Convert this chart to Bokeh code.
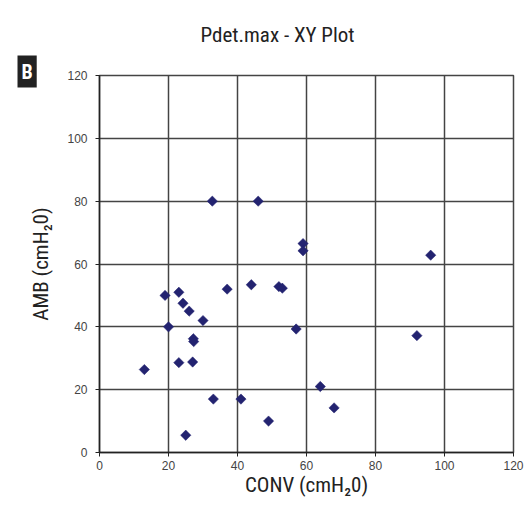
from bokeh.plotting import figure
from bokeh.models import Range1d, FixedTicker, Title
from bokeh.embed import file_html
from bokeh.resources import INLINE

# Data
conv = [32.7, 46.0, 59.0, 59.0, 19.0, 23.0, 24.2, 26.0, 30.0, 37.0, 44.0, 52.0, 53.0,
        20.0, 27.2, 27.3, 57.0, 13.0, 23.0, 27.0, 64.0, 33.0, 41.0, 68.0, 49.0, 25.0,
        96.0, 92.0]
amb = [80.0, 80.0, 66.5, 64.2, 50.0, 51.0, 47.5, 45.0, 42.0, 52.0, 53.4, 52.8, 52.3,
       40.0, 36.2, 35.3, 39.3, 26.4, 28.6, 28.8, 21.0, 17.0, 17.0, 14.2, 10.0, 5.5,
       62.8, 37.2]
ticks = [0, 20, 40, 60, 80, 100, 120]

title_text = "Pdet.max - XY Plot"
panel_text = "B"
x_label = "CONV (cmH\u20820)"
y_label = "AMB (cmH\u20820)"

cond_font = "'Liberation Sans Narrow', 'Roboto Condensed', 'Arial Narrow', sans-serif"

p = figure(width=526, height=513, output_backend="svg", toolbar_location=None,
           x_range=Range1d(0, 120), y_range=Range1d(0, 120),
           min_border_left=99, min_border_right=13, min_border_top=75, min_border_bottom=61)
p.background_fill_color = "white"
p.border_fill_color = "white"
p.outline_line_color = "#444444"
p.outline_line_width = 1.5

for ax in (p.xaxis[0], p.yaxis[0]):
    ax.ticker = FixedTicker(ticks=ticks)
    ax.minor_tick_line_color = None
    ax.major_tick_in = 0
    ax.major_tick_out = 4
    ax.axis_line_color = "#222222"
    ax.axis_line_width = 1.5
    ax.major_tick_line_color = "#222222"
    ax.major_label_text_font = "Liberation Sans"
    ax.major_label_text_font_size = "12px"
    ax.major_label_text_color = "#444444"
    ax.axis_label_text_font = cond_font
    ax.axis_label_text_font_size = "21px"
    ax.axis_label_text_font_style = "normal"
    ax.axis_label_text_color = "#222222"

p.xaxis.axis_label = x_label
p.yaxis.axis_label = y_label
p.xaxis.major_label_standoff = 4
p.yaxis.major_label_standoff = 8
p.xaxis.axis_label_standoff = 0
p.yaxis.axis_label_standoff = 11

p.grid.ticker = FixedTicker(ticks=ticks)
p.grid.grid_line_color = "#444444"
p.grid.grid_line_width = 1.5

p.scatter(conv, amb, marker="square", angle=0.785398, size=7.3, fill_color="#232370",
          line_color="#232370", line_width=0.5)

p.title = Title(text=title_text, align="left", offset=101, text_font=cond_font,
                text_font_size="21px", text_font_style="normal", text_color="#222222",
                standoff=10)

p.add_layout(Title(text=panel_text, align="left", offset=-82, text_font=cond_font,
                   text_font_size="20px", text_font_style="bold", text_color="white",
                   background_fill_color="#222222", padding=4, standoff=-28,
                   vertical_align="top"), "above")

# empty spacer panel that lifts the main title upward
p.add_layout(Title(text=" ", text_font_size="14px", standoff=0), "above")

open("out.html", "w").write(file_html(p, INLINE))
